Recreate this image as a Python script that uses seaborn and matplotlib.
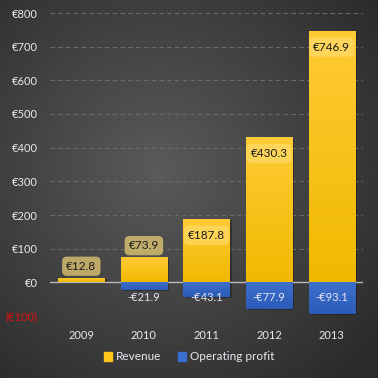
import numpy as np
import pandas as pd
import seaborn as sns
import matplotlib.pyplot as plt
from matplotlib.colors import LinearSegmentedColormap

# datos
years = ["2009", "2010", "2011", "2012", "2013"]
revenue = [12.8, 73.9, 187.8, 430.3, 746.9]
op_profit = [0.0, -21.9, -43.1, -77.9, -93.1]
y_ticks = [-100, 0, 100, 200, 300, 400, 500, 600, 700, 800]
y_tick_labels = ["(€100)", "€0", "€100", "€200", "€300", "€400", "€500", "€600", "€700", "€800"]

df = pd.DataFrame({"year": years, "Revenue": revenue, "Operating profit": op_profit})

sns.set_style("white")
plt.rcParams["font.family"] = ["Lato", "DejaVu Sans"]

fig = plt.figure(figsize=(3.78, 3.78), dpi=100)

# fondo con degradado radial
yy, xx = np.mgrid[0:1:300j, 0:1:300j]
r = np.sqrt((xx - 0.42) ** 2 + (yy - 0.45) ** 2)
bg = np.clip(1 - r / 0.75, 0, 1)
bg_cmap = LinearSegmentedColormap.from_list("bg", ["#2a2a2a", "#5a5a5a"])
bg_ax = fig.add_axes([0, 0, 1, 1], zorder=-10)
bg_ax.imshow(bg, cmap=bg_cmap, aspect="auto", extent=[0, 1, 0, 1])
bg_ax.axis("off")

ax = fig.add_axes([50 / 378, 62 / 378, 313 / 378, 303 / 378])
ax.patch.set_alpha(0)

bar_w = 0.74
sns.barplot(data=df, x="year", y="Revenue", color="#ffc61a", width=bar_w,
            saturation=1, ax=ax, zorder=3, linewidth=0)
n_rev = len(ax.patches)
sns.barplot(data=df, x="year", y="Operating profit", color="#3a6fd0", width=bar_w,
            saturation=1, ax=ax, zorder=3, linewidth=0)

yellow = LinearSegmentedColormap.from_list("yl", ["#ffcb35", "#f0b900"])
blue = LinearSegmentedColormap.from_list("bl", ["#3d70cc", "#2c5bb8"])

# degradado y sombra en cada barra
for i, p in enumerate(list(ax.patches)):
    x0, y0 = p.get_x(), p.get_y()
    w, h = p.get_width(), p.get_height()
    if h == 0:
        continue
    sh = plt.Rectangle((x0 + 0.035, y0 - 4), w, h, color="black", alpha=0.3,
                       zorder=2, linewidth=0)
    ax.add_patch(sh)
    cmap = yellow if i < n_rev else blue
    grad = np.linspace(0, 1, 100).reshape(-1, 1)
    lo, hi = min(y0, y0 + h), max(y0, y0 + h)
    im = ax.imshow(grad, cmap=cmap, aspect="auto", extent=[x0, x0 + w, lo, hi],
                   zorder=3.5, origin="upper")
    im.set_clip_path(p)

# etiquetas de ingresos
for i, v in enumerate(revenue):
    ty = v - 48 if v > 150 else v + 35
    ax.text(i, ty, f"€{v}", ha="center", va="center", fontsize=8.5, color="#1a1a1a",
            zorder=6,
            bbox=dict(boxstyle="round,pad=0.35,rounding_size=0.4", fc="#ffe07a",
                      ec="none", alpha=0.65 if v <= 150 else 0.55))

# etiquetas de beneficio operativo
for i, v in enumerate(op_profit):
    if v == 0:
        continue
    ax.text(i, -45, f"-€{abs(v)}", ha="center", va="center", fontsize=8,
            color="#e6e6f0", zorder=6)

ax.set_xlim(-0.5, 4.5)
ax.set_ylim(-100, 800)
ax.set_yticks(y_ticks)
ax.set_yticklabels(y_tick_labels)
ax.set_xlabel("")
ax.set_ylabel("")
for lbl in ax.get_yticklabels():
    lbl.set_color("#e8e8f0")
ax.get_yticklabels()[0].set_color("#e01010")
ax.tick_params(axis="y", length=0, pad=9, labelsize=8)
ax.tick_params(axis="x", length=0, pad=10, labelsize=8, colors="#e8e8f0")
for s in ax.spines.values():
    s.set_visible(False)
ax.yaxis.grid(True, color="#6a6a6a", linestyle=(0, (4, 3)), linewidth=0.8)
ax.set_axisbelow(True)
ax.axhline(0, color="#b8b8b8", linewidth=1, zorder=2.5)

# leyenda
handles = [plt.Rectangle((0, 0), 1, 1, color="#ffc61a"),
           plt.Rectangle((0, 0), 1, 1, color="#3a6fd0")]
leg = fig.legend(handles, ["Revenue", "Operating profit"], loc="center",
                 bbox_to_anchor=(0.5, 21 / 378), ncol=2, frameon=False,
                 handlelength=0.7, handleheight=0.7, handletextpad=0.3,
                 columnspacing=1.4, fontsize=8.5)
for t in leg.get_texts():
    t.set_color("#e8e8f0")

fig.savefig("out.png", dpi=100)
